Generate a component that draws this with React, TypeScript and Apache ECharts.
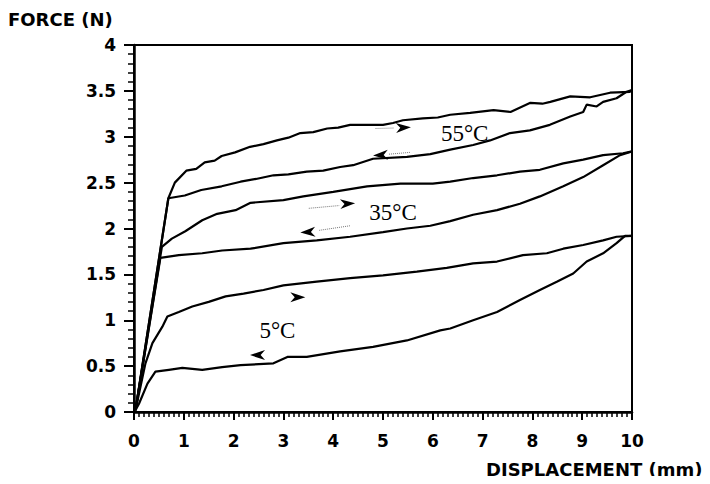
import React, { useEffect, useRef } from "react";
import * as echarts from "echarts";

const xTicks = [0, 1, 2, 3, 4, 5, 6, 7, 8, 9, 10];
const yTicks = [0, 0.5, 1, 1.5, 2, 2.5, 3, 3.5, 4];

const loading55 = [
  [0.03, 0.02], [0.69, 2.33], [0.82, 2.5], [1.05, 2.63], [1.25, 2.65], [1.42, 2.72], [1.62, 2.74],
  [1.76, 2.79], [2.03, 2.83], [2.33, 2.89], [2.6, 2.92], [2.87, 2.96], [3.1, 2.99], [3.34, 3.04],
  [3.6, 3.05], [3.88, 3.09], [4.1, 3.1], [4.34, 3.13], [4.7, 3.13], [5.0, 3.13], [5.2, 3.15],
  [5.4, 3.18], [5.8, 3.2], [6.1, 3.21], [6.35, 3.24], [6.75, 3.26], [7.22, 3.29], [7.56, 3.27],
  [7.96, 3.37], [8.2, 3.36], [8.36, 3.38], [8.76, 3.44], [9.16, 3.43], [9.56, 3.48], [9.96, 3.49],
  [10, 3.51],
];
const unloading55 = [
  [10, 3.51], [9.89, 3.49], [9.69, 3.42], [9.42, 3.38], [9.29, 3.33], [9.09, 3.35], [9.02, 3.27],
  [8.76, 3.22], [8.35, 3.13], [7.95, 3.07], [7.55, 3.04], [7.15, 2.96], [6.81, 2.91], [6.35, 2.86],
  [5.95, 2.81], [5.48, 2.78], [4.8, 2.76], [4.4, 2.69], [4.14, 2.67], [3.8, 2.63], [3.47, 2.62],
  [3.1, 2.59], [2.8, 2.58], [2.45, 2.54], [2.14, 2.51], [1.76, 2.46], [1.35, 2.42], [1.02, 2.36],
  [0.69, 2.33], [0.03, 0.02],
];
const loading35 = [
  [0.03, 0.02], [0.56, 1.8], [0.76, 1.89], [1.03, 1.97], [1.37, 2.09], [1.67, 2.16], [2.04, 2.2],
  [2.34, 2.28], [3.0, 2.31], [3.4, 2.35], [4.0, 2.4], [4.68, 2.46], [5.35, 2.49], [6.0, 2.49],
  [6.35, 2.51], [6.81, 2.55], [7.29, 2.58], [7.75, 2.62], [8.15, 2.64], [8.62, 2.71], [9.02, 2.75],
  [9.42, 2.8], [9.82, 2.82], [10, 2.84],
];
const unloading35 = [
  [10, 2.84], [9.76, 2.8], [9.42, 2.69], [9.02, 2.56], [8.62, 2.46], [8.15, 2.35], [7.75, 2.27],
  [7.29, 2.2], [6.81, 2.15], [6.35, 2.08], [5.95, 2.03], [5.48, 2.0], [5.0, 1.96], [4.34, 1.91],
  [3.67, 1.87], [3.0, 1.84], [2.34, 1.78], [1.77, 1.76], [1.37, 1.73], [0.9, 1.71], [0.53, 1.68],
  [0.03, 0.02],
];
const loading5 = [
  [0.03, 0.02], [0.23, 0.53], [0.37, 0.75], [0.57, 0.93], [0.67, 1.04], [0.9, 1.09], [1.17, 1.15],
  [1.5, 1.2], [1.84, 1.26], [2.2, 1.29], [2.6, 1.33], [3.0, 1.38], [3.67, 1.42], [4.34, 1.46],
  [5.0, 1.49], [5.68, 1.53], [6.28, 1.57], [6.81, 1.62], [7.29, 1.64], [7.81, 1.71], [8.29, 1.73],
  [8.62, 1.78], [9.02, 1.82], [9.42, 1.87], [9.69, 1.91], [10, 1.92],
];
const unloading5 = [
  [10, 1.92], [9.86, 1.92], [9.69, 1.84], [9.42, 1.73], [9.09, 1.64], [8.82, 1.51], [8.49, 1.42],
  [8.15, 1.33], [7.75, 1.22], [7.29, 1.09], [6.81, 1.0], [6.35, 0.91], [6.15, 0.89], [5.48, 0.78],
  [4.8, 0.71], [4.14, 0.66], [3.47, 0.6], [3.08, 0.6], [2.8, 0.53], [2.14, 0.51], [1.77, 0.49],
  [1.37, 0.46], [0.97, 0.48], [0.7, 0.46], [0.43, 0.44], [0.27, 0.31], [0.1, 0.09], [0.03, 0.02],
];

// arrow annotations: [x, y, direction(0 right / 180 left)]
const arrows55 = [[5.41, 3.1, 3], [4.95, 2.8, 183]];
const arrows35 = [[4.29, 2.27, 3], [3.49, 1.96, 183]];
const arrows5 = [[3.29, 1.25, 0], [2.48, 0.62, 180]];
const tails55 = [[[4.85, 3.09], [5.22, 3.095]], [[5.12, 2.81], [5.55, 2.83]]];
const tails35 = [[[3.51, 2.22], [4.12, 2.25]], [[3.72, 1.98], [4.34, 2.03]]];
const tempLabels = [
  { name: "55°C", x: 6.64, y: 3.04 },
  { name: "35°C", x: 5.2, y: 2.17 },
  { name: "5°C", x: 2.88, y: 0.89 },
];

const ARROW = "path://M0,0L12,5L0,10L3.5,5Z";
const TICK_FONT = "DejaVu Sans";

function arrowPoints(list: number[][]) {
  return list.map((a) => ({
    coord: [a[0], a[1]],
    symbol: ARROW,
    symbolSize: [15, 10],
    symbolRotate: a[2],
    itemStyle: { color: "#000" },
    label: { show: false },
  }));
}
function tailLines(list: number[][][]) {
  return list.map((t) => [{ coord: t[0] }, { coord: t[1] }]);
}

export default function App() {
  const ref = useRef<HTMLDivElement>(null);
  useEffect(() => {
    if (!ref.current) return;
    const chart = echarts.init(ref.current, null, { renderer: "svg" });
    const lineStyle = { color: "#000", width: 2.2 };
    const base = {
      type: "line",
      showSymbol: false,
      symbol: "none",
      lineStyle,
      silent: true,
    };
    const mlStyle = {
      silent: true,
      symbol: "none",
      lineStyle: { color: "#777", width: 1, type: "dotted" },
      label: { show: false },
    };
    chart.setOption({
      animation: false,
      backgroundColor: "#fff",
      grid: {
        left: 134,
        right: 78,
        top: 45,
        bottom: 72,
        show: true,
        borderColor: "#000",
        borderWidth: 2,
      },
      xAxis: {
        type: "value",
        min: 0,
        max: 10,
        interval: 1,
        axisLine: { show: true, lineStyle: { color: "#000", width: 2.5 } },
        axisTick: { show: true, length: 8, lineStyle: { color: "#000", width: 2 } },
        minorTick: { show: true, splitNumber: 10, length: 5, lineStyle: { color: "#000", width: 1.5 } },
        splitLine: { show: false },
        axisLabel: {
          color: "#000",
          fontFamily: TICK_FONT,
          fontWeight: "bold",
          fontSize: 17,
          margin: 20,
          formatter: (v: number) => (xTicks.includes(v) ? String(v) : ""),
        },
      },
      yAxis: {
        type: "value",
        min: 0,
        max: 4,
        interval: 0.5,
        axisLine: { show: true, lineStyle: { color: "#000", width: 2.5 } },
        axisTick: { show: true, length: 10, lineStyle: { color: "#000", width: 2 } },
        minorTick: { show: true, splitNumber: 5, length: 6, lineStyle: { color: "#000", width: 1.5 } },
        splitLine: { show: false },
        axisLabel: {
          color: "#000",
          fontFamily: TICK_FONT,
          fontWeight: "bold",
          fontSize: 17,
          margin: 18,
          formatter: (v: number) => (yTicks.includes(v) ? String(v) : ""),
        },
      },
      graphic: [
        {
          type: "text",
          left: 8,
          top: 10,
          style: { text: "FORCE (N)", fontFamily: TICK_FONT, fontWeight: "bold", fontSize: 18, fill: "#000" },
        },
        {
          type: "text",
          left: 486,
          top: 460,
          style: { text: "DISPLACEMENT (mm)", fontFamily: TICK_FONT, fontWeight: "bold", fontSize: 18, fill: "#000" },
        },
      ],
      series: [
        {
          ...base,
          name: "55 loading",
          data: loading55,
          markPoint: { silent: true, data: arrowPoints(arrows55) },
          markLine: { ...mlStyle, data: tailLines(tails55) },
        },
        { ...base, name: "55 unloading", data: unloading55 },
        {
          ...base,
          name: "35 loading",
          data: loading35,
          markPoint: { silent: true, data: arrowPoints(arrows35) },
          markLine: { ...mlStyle, data: tailLines(tails35) },
        },
        { ...base, name: "35 unloading", data: unloading35 },
        {
          ...base,
          name: "5 loading",
          data: loading5,
          markPoint: { silent: true, data: arrowPoints(arrows5) },
        },
        {
          ...base,
          name: "5 unloading",
          data: unloading5,
          markPoint: {
            silent: true,
            data: tempLabels.map((t) => ({
              coord: [t.x, t.y],
              symbol: "circle",
              symbolSize: 1,
              itemStyle: { color: "rgba(0,0,0,0)" },
              label: {
                show: true,
                position: "inside",
                formatter: t.name,
                color: "#000",
                fontFamily: "Liberation Serif",
                fontSize: 23,
              },
            })),
          },
        },
      ],
    });
    return () => chart.dispose();
  }, []);
  return <div ref={ref} style={{ width: 710, height: 484, margin: -8 }} />;
}
